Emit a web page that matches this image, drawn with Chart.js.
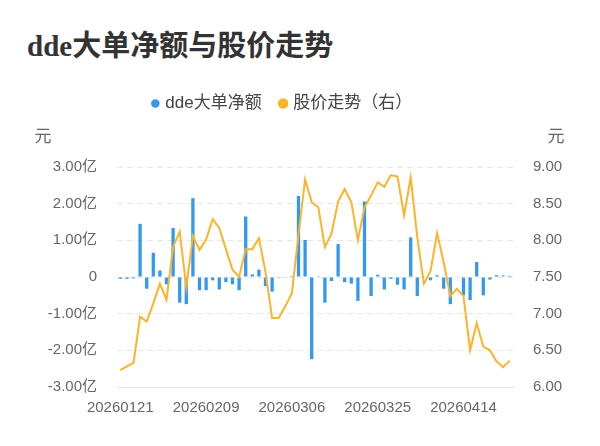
<!DOCTYPE html>
<html>
<head>
<meta charset="utf-8">
<script src="https://cdn.jsdelivr.net/npm/chart.js@4/dist/chart.umd.min.js"></script>
<style>
  html, body { margin: 0; padding: 0; background: #fff; }
  #wrap { position: relative; width: 600px; height: 446px; }
  #title {
    position: absolute; left: 27px; top: 22px;
    font: bold 29px "Liberation Serif", "Noto Sans CJK SC", serif;
    color: #333; white-space: nowrap;
  }
  canvas { position: absolute; left: 0; top: 0; }
</style>
</head>
<body>
<div id="wrap">
  <div id="title">dde大单净额与股价走势</div>
  <canvas id="chart" width="600" height="446"></canvas>
</div>
<script>
// trading days
const dates = [
  '20260121','20260122','20260123','20260126','20260127','20260128','20260129','20260130',
  '20260202','20260203','20260204','20260205','20260206','20260209','20260210','20260211',
  '20260212','20260213','20260224','20260225','20260226','20260227','20260302','20260303',
  '20260304','20260305','20260306','20260309','20260310','20260311','20260312','20260313',
  '20260316','20260317','20260318','20260319','20260320','20260323','20260324','20260325',
  '20260326','20260327','20260330','20260331','20260401','20260402','20260403','20260407',
  '20260408','20260409','20260410','20260413','20260414','20260415','20260416','20260417',
  '20260420','20260421','20260422','20260423'
];

// dde net amount, in 亿
const ddeValues = [
  -0.05, -0.05, -0.04, 1.45, -0.32, 0.66, 0.18, -0.2,
  1.34, -0.7, -0.74, 2.15, -0.36, -0.36, -0.09, -0.34,
  -0.14, -0.2, -0.36, 1.65, 0.07, 0.2, -0.25, -0.4,
  -0.02, -0.02, 0.03, 2.21, 1.01, -2.24, 0.02, -0.7,
  -0.11, 0.9, -0.14, -0.18, -0.65, 2.06, -0.52, 0.06,
  -0.34, -0.05, -0.21, -0.34, 1.08, -0.52, 0.02, -0.09,
  0.05, -0.32, -0.74, 0.01, -0.5, -0.63, 0.41, -0.5,
  -0.07, 0.05, 0.04, 0.03
];

// share price (right axis)
const priceValues = [
  6.23, 6.28, 6.33, 6.96, 6.89, 7.14, 7.41, 7.19,
  7.91, 8.12, 7.36, 8.06, 7.87, 8.01, 8.29, 8.17,
  7.88, 7.60, 7.50, 7.88, 7.88, 8.03, 7.57, 6.94,
  6.94, 7.10, 7.28, 8.08, 8.83, 8.52, 8.45, 7.91,
  8.09, 8.53, 8.70, 8.52, 8.00, 8.45, 8.61, 8.79,
  8.73, 8.89, 8.87, 8.34, 8.86, 8.04, 7.41, 7.58,
  8.10, 7.70, 7.24, 7.34, 7.24, 6.50, 6.87, 6.55,
  6.50, 6.35, 6.27, 6.36
];

const seriesNames = ['dde大单净额', '股价走势（右）'];
const leftTicks = [-3, -2, -1, 0, 1, 2, 3];
const rightTicks = [6, 6.5, 7, 7.5, 8, 8.5, 9];
const labelEvery = 13;

const fontFamily = '"Liberation Sans", "Noto Sans CJK SC", sans-serif';
const blue = '#3399ee';
const orange = '#fbb42a';

// extra room under the legend for the 元 unit labels,
// and nudge the legend a bit left like the original
const legendTweak = {
  id: 'legendTweak',
  beforeInit(chart) {
    const fit = chart.legend.fit;
    chart.legend.fit = function() {
      fit.bind(chart.legend)();
      this.height += 45;
    };
  },
  afterLayout(chart) {
    chart.legend.left -= 17;
    chart.legend.right -= 17;
  }
};

// unit labels above both y axes
const unitLabels = {
  id: 'unitLabels',
  afterDraw(chart) {
    const c = chart.ctx;
    const top = chart.chartArea.top;
    c.save();
    c.font = '17px ' + fontFamily;
    c.fillStyle = '#666';
    c.textAlign = 'center';
    c.textBaseline = 'middle';
    c.fillText('元', chart.scales.y.left + 43, top - 30);
    c.fillText('元', chart.scales.y1.left + 43, top - 30);
    c.restore();
  }
};

new Chart(document.getElementById('chart'), {
  data: {
    labels: dates,
    datasets: [
      {
        type: 'line',
        label: seriesNames[1],
        data: priceValues,
        yAxisID: 'y1',
        borderColor: orange,
        backgroundColor: orange,
        borderWidth: 2,
        pointRadius: 0,
        tension: 0,
        order: 1
      },
      {
        type: 'bar',
        label: seriesNames[0],
        data: ddeValues,
        yAxisID: 'y',
        backgroundColor: blue,
        borderWidth: 0,
        barPercentage: 0.5,
        categoryPercentage: 1,
        order: 2
      }
    ]
  },
  options: {
    responsive: false,
    animation: false,
    layout: { padding: { top: 75, left: 0, right: 0, bottom: 0 } },
    plugins: {
      legend: {
        position: 'top',
        reverse: true,
        labels: {
          usePointStyle: true,
          pointStyle: 'circle',
          boxWidth: 3,
          boxHeight: 6,
          padding: 20,
          color: '#444',
          font: { size: 17, family: fontFamily }
        }
      },
      tooltip: { enabled: false }
    },
    scales: {
      x: {
        offset: true,
        grid: { display: false, drawTicks: false },
        border: { display: true, color: '#e6e6e6' },
        ticks: {
          autoSkip: false,
          maxRotation: 0,
          padding: 12,
          color: '#666',
          font: { size: 15, family: fontFamily },
          callback: (v, i) => (i % labelEvery === 0 ? dates[i] : '')
        },
        afterFit(scale) { scale.height = 59; }
      },
      y: {
        position: 'left',
        min: -3,
        max: 3,
        afterBuildTicks(scale) { scale.ticks = leftTicks.map(v => ({ value: v })); },
        grid: { color: '#e6e6e6', drawTicks: false },
        border: { display: false, dash: [6, 4] },
        ticks: {
          padding: 20,
          color: '#666',
          font: { size: 15, family: fontFamily },
          callback: v => (v === 0 ? '0' : v.toFixed(2) + '亿')
        },
        afterFit(scale) { scale.width = 117; }
      },
      y1: {
        position: 'right',
        min: 6,
        max: 9,
        afterBuildTicks(scale) { scale.ticks = rightTicks.map(v => ({ value: v })); },
        grid: { display: false, drawTicks: false },
        border: { display: false },
        ticks: {
          padding: 20,
          color: '#666',
          font: { size: 15, family: fontFamily },
          callback: v => v.toFixed(2)
        },
        afterFit(scale) { scale.width = 87; }
      }
    }
  },
  plugins: [legendTweak, unitLabels]
});
</script>
</body>
</html>
